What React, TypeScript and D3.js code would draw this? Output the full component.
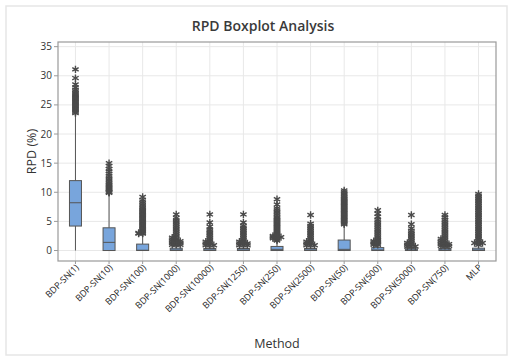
import React from "react";
import * as d3 from "d3";

const categories = [
  "BDP-SN(1)", "BDP-SN(10)", "BDP-SN(100)", "BDP-SN(1000)", "BDP-SN(10000)",
  "BDP-SN(1250)", "BDP-SN(250)", "BDP-SN(2500)", "BDP-SN(50)", "BDP-SN(500)",
  "BDP-SN(5000)", "BDP-SN(750)", "MLP",
];
const q1 = [4.2, 0, 0, 0, 0, 0, 0, 0, 0, 0, 0, 0, 0];
const medians = [8.2, 1.4, 0.05, 0.1, 0.1, 0.1, 0.2, 0.1, 0.2, 0.1, 0.1, 0.1, 0.1];
const q3 = [12.0, 3.9, 1.1, 0.4, 0.35, 0.35, 0.7, 0.35, 1.8, 0.5, 0.3, 0.35, 0.4];
const whiskerLo = [0, 0, 0, 0, 0, 0, 0, 0, 0, 0, 0, 0, 0];
const whiskerHi = [23.4, 9.8, 2.8, 0.9, 0.8, 0.8, 1.6, 0.8, 4.3, 0.9, 0.6, 0.7, 0.9];

const outliers: number[][] = [
  [23.6, 23.8, 24.0, 24.2, 24.4, 24.6, 24.8, 25.0, 25.2, 25.4, 25.6, 25.8, 26.0, 26.2, 26.4, 26.6, 26.8, 27.0, 27.3, 27.6, 28.0, 28.5, 29.6, 31.1],
  [9.9, 10.0, 10.1, 10.3, 10.5, 10.7, 10.9, 11.1, 11.3, 11.5, 11.8, 12.1, 12.4, 12.8, 13.2, 13.6, 14.0, 14.5, 15.0],
  [2.9, 2.9, 3.0, 3.0, 3.2, 3.4, 3.6, 3.8, 4.0, 4.2, 4.4, 4.6, 4.8, 5.0, 5.2, 5.4, 5.6, 5.8, 6.0, 6.2, 6.4, 6.6, 6.8, 7.0, 7.2, 7.5, 7.8, 8.1, 8.4, 8.7, 9.2],
  [1.0, 1.0, 1.0, 1.3, 1.3, 1.3, 1.6, 1.6, 1.6, 1.9, 1.9, 2.2, 2.2, 2.5, 2.8, 3.1, 3.4, 3.7, 4.0, 4.3, 4.6, 4.9, 5.2, 5.6, 6.2],
  [0.9, 0.9, 0.9, 1.2, 1.2, 1.5, 1.5, 1.8, 2.1, 2.4, 2.7, 3.0, 3.3, 3.6, 4.1, 4.8, 6.2],
  [0.9, 0.9, 0.9, 1.2, 1.2, 1.2, 1.5, 1.5, 1.8, 2.1, 2.4, 2.7, 3.0, 3.3, 3.6, 3.9, 4.2, 4.8, 6.2],
  [1.7, 1.9, 2.1, 2.1, 2.3, 2.3, 2.3, 2.5, 2.5, 2.7, 2.9, 3.1, 3.3, 3.5, 3.7, 3.9, 4.1, 4.3, 4.5, 4.7, 4.9, 5.1, 5.3, 5.5, 5.7, 6.0, 6.3, 6.6, 6.9, 7.2, 7.9, 8.8],
  [0.9, 0.9, 0.9, 1.2, 1.2, 1.5, 1.5, 1.8, 2.1, 2.4, 2.7, 3.0, 3.3, 3.6, 3.9, 4.2, 4.6, 6.1],
  [4.5, 4.7, 4.9, 5.1, 5.3, 5.5, 5.7, 5.9, 6.1, 6.3, 6.5, 6.7, 6.9, 7.1, 7.3, 7.5, 7.7, 7.9, 8.1, 8.3, 8.5, 8.7, 8.9, 9.1, 9.4, 9.7, 10.0, 10.3],
  [1.0, 1.0, 1.2, 1.2, 1.4, 1.4, 1.6, 1.6, 1.8, 2.0, 2.3, 2.6, 2.9, 3.2, 3.5, 3.8, 4.1, 4.4, 4.7, 5.0, 5.3, 5.8, 6.3, 6.9],
  [0.7, 0.7, 0.7, 1.0, 1.0, 1.3, 1.3, 1.6, 1.9, 2.2, 2.5, 2.8, 3.1, 3.4, 3.8, 4.5, 6.1],
  [0.8, 0.8, 0.8, 1.1, 1.1, 1.1, 1.4, 1.4, 1.7, 1.7, 2.0, 2.0, 2.3, 2.6, 2.9, 3.2, 3.5, 3.8, 4.1, 4.4, 4.7, 5.0, 5.3, 5.7, 6.1],
  [1.0, 1.3, 1.3, 1.3, 1.6, 1.9, 2.2, 2.5, 2.8, 3.1, 3.4, 3.7, 4.0, 4.3, 4.6, 4.9, 5.2, 5.5, 5.8, 6.1, 6.4, 6.7, 7.0, 7.3, 7.6, 7.9, 8.2, 8.5, 8.8, 9.1, 9.4, 9.7],
];
const yTicks = [0, 5, 10, 15, 20, 25, 30, 35];

const FONT = "'Open Sans', 'Noto Sans', sans-serif";
const W = 512, H = 357;
const L = 58, R = 496, T = 42, B = 261;

export default function App() {
  const x = d3.scalePoint<string>().domain(categories).range([L, R]).padding(0.52);
  const y = d3.scaleLinear().domain([-1.8, 35.8]).range([B, T]);
  const star = d3.symbol(d3.symbolAsterisk, 38)() as string;
  const offs = [0, -4, 4, -7, 7];
  const bw = 12;

  return (
    <svg width={W} height={H} style={{ position: "absolute", left: 0, top: 0, background: "#fff" }} fontFamily={FONT}>
      <rect x={6} y={6} width={501} height={349} fill="#fff" stroke="#e6e6e6" strokeWidth={1.5} />
      <text x={263} y={31} textAnchor="middle" fontSize={14} fontWeight={600} fill="#3a3a3a">RPD Boxplot Analysis</text>
      {/* grid */}
      {yTicks.map((t) => (
        <line key={"gy" + t} x1={L} x2={R} y1={y(t)} y2={y(t)} stroke="#e8e8e8" strokeWidth={1} />
      ))}
      {categories.map((c) => (
        <line key={"gx" + c} x1={x(c)} x2={x(c)} y1={T} y2={B} stroke="#e8e8e8" strokeWidth={1} />
      ))}
      <rect x={L} y={T} width={R - L} height={B - T} fill="none" stroke="#9a9a9a" strokeWidth={1.2} />
      {/* y axis */}
      {yTicks.map((t) => (
        <g key={"yt" + t}>
          <line x1={L - 4} x2={L} y1={y(t)} y2={y(t)} stroke="#9a9a9a" />
          <text x={L - 6} y={y(t)} dy="0.35em" textAnchor="end" fontSize={10} fill="#333">{t}</text>
        </g>
      ))}
      <text transform={`translate(36,${(T + B) / 2}) rotate(-90)`} textAnchor="middle" fontSize={12.5} fill="#333">RPD (%)</text>
      {/* x axis */}
      {categories.map((c) => (
        <g key={"xt" + c}>
          <line x1={x(c)} x2={x(c)} y1={B} y2={B + 3} stroke="#9a9a9a" />
          <text transform={`translate(${(x(c) as number) + 4},${B + 7}) rotate(-45)`} textAnchor="end" fontSize={9} fill="#222">{c}</text>
        </g>
      ))}
      <text x={277} y={348} textAnchor="middle" fontSize={12.5} fill="#333">Method</text>
      {/* boxes */}
      {categories.map((c, i) => {
        const cx = x(c) as number;
        const seen: Record<string, number> = {};
        return (
          <g key={"b" + c}>
            <line x1={cx} x2={cx} y1={y(q3[i])} y2={y(whiskerHi[i])} stroke="#555" strokeWidth={1} />
            <line x1={cx} x2={cx} y1={y(q1[i])} y2={y(whiskerLo[i])} stroke="#555" strokeWidth={1} />
            <rect x={cx - bw / 2} y={y(q3[i])} width={bw} height={Math.max(1, y(q1[i]) - y(q3[i]))} fill="#78a5dc" stroke="#555" strokeWidth={1} />
            <line x1={cx - bw / 2} x2={cx + bw / 2} y1={y(medians[i])} y2={y(medians[i])} stroke="#555" strokeWidth={1} />
            {outliers[i].map((v, j) => {
              const k = seen[v] || 0;
              seen[v] = k + 1;
              return (
                <path key={j} d={star} transform={`translate(${cx + offs[k % offs.length]},${y(v)})`} fill="none" stroke="#4a4a4a" strokeWidth={1.4} />
              );
            })}
          </g>
        );
      })}
    </svg>
  );
}
